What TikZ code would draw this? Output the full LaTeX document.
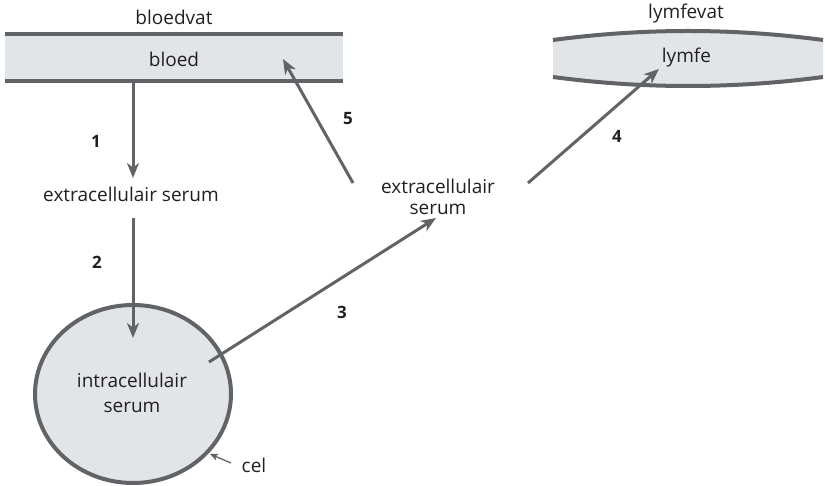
\documentclass[tikz,border=0pt]{standalone}
\usepackage{fontspec}
\setmainfont{Open Sans}
\usetikzlibrary{arrows.meta}
\definecolor{linegray}{HTML}{616366}
\definecolor{fillgray}{HTML}{E2E5E8}
\definecolor{inkdark}{HTML}{231F20}
\begin{document}
\begin{tikzpicture}[x=1pt,y=-1pt,
  lbl/.style={anchor=base,inner sep=0pt,text=inkdark,font=\fontsize{19}{25}\selectfont,align=center},
  num/.style={anchor=base,inner sep=0pt,text=inkdark,font=\fontsize{17}{20}\selectfont\bfseries},
  wall/.style={draw=linegray,line width=4pt},
  flow/.style={draw=linegray,line width=3pt,-{Stealth[length=15pt,width=12pt,inset=4.5pt]}},
  pointer/.style={draw=linegray,line width=1.3pt,-{Stealth[length=8pt,width=7pt,inset=2pt]}}]
\useasboundingbox (0,0) rectangle (825,486);

% blood vessel
\fill[fillgray] (5,34) rectangle (343,81);
\draw[wall] (5,34) -- (343,34);
\draw[wall] (5,81) -- (343,81);
\node[lbl] (bloedvat) at (174,25) {bloedvat};
\node[lbl] (bloed) at (174,67) {bloed};

% lymph vessel
\fill[fillgray] (553,40) .. controls (643,28) and (733,28) .. (823,40)
  -- (823,77) .. controls (733,89) and (643,89) .. (553,77) -- cycle;
\draw[wall] (553,40) .. controls (643,28) and (733,28) .. (823,40);
\draw[wall] (553,77) .. controls (643,89) and (733,89) .. (823,77);
\node[lbl] (lymfevat) at (686,18.5) {lymfevat};
\node[lbl] (lymfe) at (686.5,63) {lymfe};

% cell (base anchor of a two-line label sits on its last line)
\draw[wall,fill=fillgray] (133,394) ellipse [x radius=98,y radius=89];
\node[lbl] (intra) at (132,413) {intracellulair\\serum};
\node[lbl] (cel) at (254,472) {cel};

% extracellular fluid
\node[lbl] (extraL) at (131,202) {extracellulair serum};
\node[lbl,font=\fontsize{19}{21}\selectfont] (extraR) at (438,215) {extracellulair\\serum};

% arrow end points
\coordinate (s1) at (133,83);  \coordinate (e1) at (133,178);
\coordinate (s2) at (133,218); \coordinate (e2) at (133,338);
\coordinate (s3) at (209,362); \coordinate (e3) at (436,218);
\coordinate (s4) at (528,183); \coordinate (e4) at (659,69);
\coordinate (s5) at (353,183); \coordinate (e5) at (283,59);
\coordinate (sc) at (231,463); \coordinate (ec) at (210,454);

\draw[flow] (s1) -- (e1);
\draw[flow] (s2) -- (e2);
\draw[flow] (s3) -- (e3);
\draw[flow] (s4) -- (e4);
\draw[flow] (s5) -- (e5);
\draw[pointer] (sc) -- (ec);

% step numbers
\node[num] (n1) at (96,148) {1};
\node[num] (n2) at (97,269) {2};
\node[num] (n3) at (342,319) {3};
\node[num] (n4) at (617,143) {4};
\node[num] (n5) at (348,125) {5};
\end{tikzpicture}
\end{document}
